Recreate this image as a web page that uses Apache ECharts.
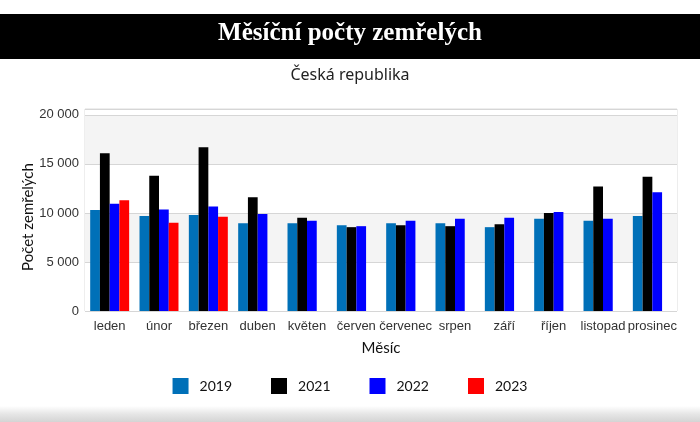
<!DOCTYPE html>
<html>
<head>
<meta charset="utf-8">
<script src="https://cdn.jsdelivr.net/npm/echarts@6/dist/echarts.min.js"></script>
<style>
html,body{margin:0;padding:0;background:#fff;}
#c{width:700px;height:422px;}
</style>
</head>
<body>
<div id="c"></div>
<script>
var months = ['leden','únor','březen','duben','květen','červen','červenec','srpen','září','říjen','listopad','prosinec'];
var y2019 = [10300, 9700, 9800, 8950, 8950, 8750, 8950, 8950, 8550, 9400, 9200, 9700];
var y2021 = [16100, 13800, 16700, 11600, 9500, 8550, 8750, 8650, 8850, 10000, 12700, 13700];
var y2022 = [10950, 10350, 10650, 9900, 9200, 8650, 9200, 9400, 9500, 10100, 9400, 12100];
var y2023 = [11300, 9000, 9600, null, null, null, null, null, null, null, null, null];
var yTicks = [0, 5000, 10000, 15000, 20000];

function fmt(v){ return String(v).replace(/\B(?=(\d{3})+(?!\d))/g, ' '); }

var chart = echarts.init(document.getElementById('c'));
var sans = 'Liberation Sans, Arial, sans-serif';
var geo = 'Lato, Noto Sans, sans-serif';
chart.setOption({
  animation: false,
  backgroundColor: '#fff',
  graphic: [
    { type: 'rect', left: 0, top: 14, shape: { width: 700, height: 45 }, style: { fill: '#000' }, z: -1 },
    { type: 'text', left: 'center', top: 21, style: { text: 'Měsíční počty zemřelých', fill: '#fff', font: 'bold 25px "Liberation Serif", serif' } },
    { type: 'text', left: 'center', top: 67, style: { text: 'Česká republika', fill: '#222', font: '16px "Noto Sans", sans-serif' } },
    { type: 'rect', left: 0, top: 406, shape: { width: 700, height: 16 },
      style: { fill: new echarts.graphic.LinearGradient(0, 0, 0, 1, [{ offset: 0, color: '#ffffff' }, { offset: 0.5, color: '#e6e6e6' }, { offset: 1, color: '#d4d4d4' }]) }, z: -1 }
  ],
  grid: { left: 85, right: 23, top: 109, bottom: 111, show: true, borderColor: '#dcdcdc', borderWidth: 1, backgroundColor: 'transparent' },
  legend: {
    bottom: 23, left: 'center', itemWidth: 16, itemHeight: 16, itemGap: 39,
    icon: 'rect',
    textStyle: { fontFamily: geo, fontSize: 14, color: '#111', padding: [0, 0, 0, 6] },
    data: ['2019', '2021', '2022', '2023']
  },
  xAxis: {
    type: 'category', data: months,
    name: 'Měsíc', nameLocation: 'middle', nameGap: 30,
    nameTextStyle: { fontFamily: geo, fontSize: 15, color: '#111' },
    axisLine: { show: false }, axisTick: { show: false },
    axisLabel: { fontFamily: sans, fontSize: 13, color: '#333', margin: 9, interval: 0 }
  },
  yAxis: {
    type: 'value', min: 0, max: 20600, interval: 5000,
    name: 'Počet zemřelých', nameLocation: 'middle', nameGap: 49, nameMoveOverlap: false,
    nameTextStyle: { fontFamily: geo, fontSize: 15, color: '#111', padding: [0, 14, 0, 0] },
    axisLine: { show: false }, axisTick: { show: false },
    axisLabel: { fontFamily: sans, fontSize: 13, color: '#333', margin: 6, showMaxLabel: false,
      formatter: function(v){ return yTicks.indexOf(v) >= 0 ? fmt(v) : ''; } },
    splitLine: { show: true, lineStyle: { color: '#d6d6d6', width: 1 } },
    splitArea: { show: true, areaStyle: { color: ['#ffffff', '#f4f4f4'] } }
  },
  series: [
    { name: '2019', type: 'bar', data: y2019, itemStyle: { color: '#0070b8' }, barGap: '0%', barCategoryGap: '21%' },
    { name: '2021', type: 'bar', data: y2021, itemStyle: { color: '#000000' } },
    { name: '2022', type: 'bar', data: y2022, itemStyle: { color: '#0000ff' } },
    { name: '2023', type: 'bar', data: y2023, itemStyle: { color: '#ff0000' } }
  ]
});
</script>
</body>
</html>
